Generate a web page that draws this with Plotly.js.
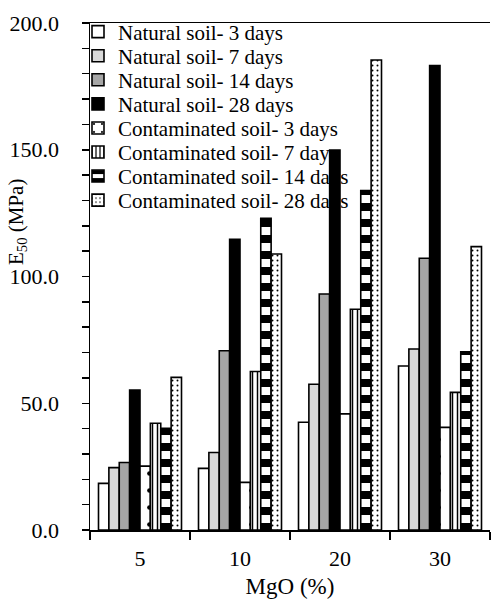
<!DOCTYPE html>
<html>
<head>
<meta charset="utf-8">
<script src="https://cdn.plot.ly/plotly-3.0.1.min.js"></script>
<style>html,body{margin:0;padding:0;background:#fff;}#chart{width:491px;height:599px;}</style>
</head>
<body>
<div id="chart"></div>
<script>
// ---- data ----
const categories = ['5', '10', '20', '30'];
const seriesNames = [
  'Natural soil- 3 days', 'Natural soil- 7 days', 'Natural soil- 14 days', 'Natural soil- 28 days',
  'Contaminated soil- 3 days', 'Contaminated soil- 7 days', 'Contaminated soil- 14 days', 'Contaminated soil- 28 days'
];
const natural3  = [18.4, 24.3, 42.5, 64.7];
const natural7  = [24.6, 30.6, 57.5, 71.4];
const natural14 = [26.6, 70.7, 93.1, 107.2];
const natural28 = [55.2, 114.7, 149.9, 183.2];
const contam3   = [25.2, 18.8, 45.8, 40.5];
const contam7   = [42.1, 62.5, 87.1, 54.3];
const contam14  = [40.1, 123.0, 133.9, 70.3];
const contam28  = [60.2, 108.9, 185.4, 111.8];
const yTickVals = [0,10,20,30,40,50,60,70,80,90,100,110,120,130,140,150,160,170,180,190,200];
const yTickText = yTickVals.map(v => (v % 50 === 0 ? v.toFixed(1) : ' '));

const values = [natural3, natural7, natural14, natural28, contam3, contam7, contam14, contam28];

// ---- styles ----
const FONT = 'Liberation Serif';
const styles = [
  {color: '#ffffff'},
  {color: '#d9d9d9'},
  {color: '#a6a6a6'},
  {color: '#000000'},
  {color: '#ffffff', pattern: {shape: '.', size: 17, solidity: 0.06, fgcolor: '#000', bgcolor: '#fff', fillmode: 'replace'}},
  {color: '#ffffff', pattern: {shape: '|', size: 5, solidity: 0.3, fgcolor: '#000', bgcolor: '#fff', fillmode: 'replace'}},
  {color: '#ffffff', pattern: {shape: '-', size: 16, solidity: 0.5, fgcolor: '#000', bgcolor: '#fff', fillmode: 'replace'}},
  {color: '#ffffff', pattern: {shape: '.', size: 5, solidity: 0.12, fgcolor: '#000', bgcolor: '#fff', fillmode: 'replace'}}
];

const legendKeys = ['legend', 'legend2', 'legend3', 'legend4', 'legend5', 'legend6', 'legend7', 'legend8'];

const traces = values.map((v, i) => {
  const m = {color: styles[i].color, line: {color: '#000', width: 1.6}};
  if (styles[i].pattern) m.pattern = styles[i].pattern;
  return {
    type: 'bar', x: categories, y: v, name: seriesNames[i],
    marker: m, legend: legendKeys[i], hoverinfo: 'skip'
  };
});

const plotTop = 23, plotBottom = 530, plotLeft = 90, plotW = 400;
const rowY0 = 32, rowStep = 24.07;

const layout = {
  width: 491, height: 599,
  margin: {l: plotLeft, r: 1, t: plotTop, b: 599 - plotBottom, pad: 0},
  paper_bgcolor: '#fff', plot_bgcolor: '#fff',
  font: {family: FONT, color: '#000', size: 21},
  barmode: 'group', bargap: 0.17, bargroupgap: 0,
  showlegend: true,
  xaxis: {
    type: 'category', tickson: 'boundaries', ticks: 'outside', ticklen: 8, tickwidth: 1.5, tickcolor: '#000',
    showline: true, linecolor: '#000', linewidth: 1.5, mirror: true,
    showgrid: false, zeroline: false, ticklabelstandoff: 8,
    tickfont: {family: FONT, size: 22, color: '#000'},
    title: {text: 'MgO (%)', font: {family: FONT, size: 23, color: '#000'}, standoff: 14}
  },
  yaxis: {
    range: [0, 200], tickmode: 'array', tickvals: yTickVals, ticktext: yTickText,
    ticks: 'outside', ticklen: 7, tickwidth: 1.5, tickcolor: '#000',
    showline: true, linecolor: '#000', linewidth: 1.5, mirror: false,
    showgrid: false, zeroline: false, ticklabelstandoff: 18,
    tickfont: {family: FONT, size: 22, color: '#000'}
  },
  annotations: [{
    text: 'E<sub>50</sub> (MPa)', textangle: -90, showarrow: false,
    xref: 'paper', yref: 'paper',
    x: (17 - plotLeft) / plotW, y: (plotBottom - 222) / (plotBottom - plotTop),
    xanchor: 'center', yanchor: 'middle',
    font: {family: FONT, size: 21, color: '#000'}
  }]
};

legendKeys.forEach((k, i) => {
  layout[k] = {
    x: (78 - plotLeft) / plotW,
    y: (plotBottom - (rowY0 + i * rowStep)) / (plotBottom - plotTop),
    xanchor: 'left', yanchor: 'middle',
    bgcolor: 'rgba(0,0,0,0)', borderwidth: 0,
    font: {family: FONT, size: 21, color: '#000'}
  };
});

Plotly.newPlot('chart', traces, layout, {staticPlot: true, displayModeBar: false});
</script>
</body>
</html>
